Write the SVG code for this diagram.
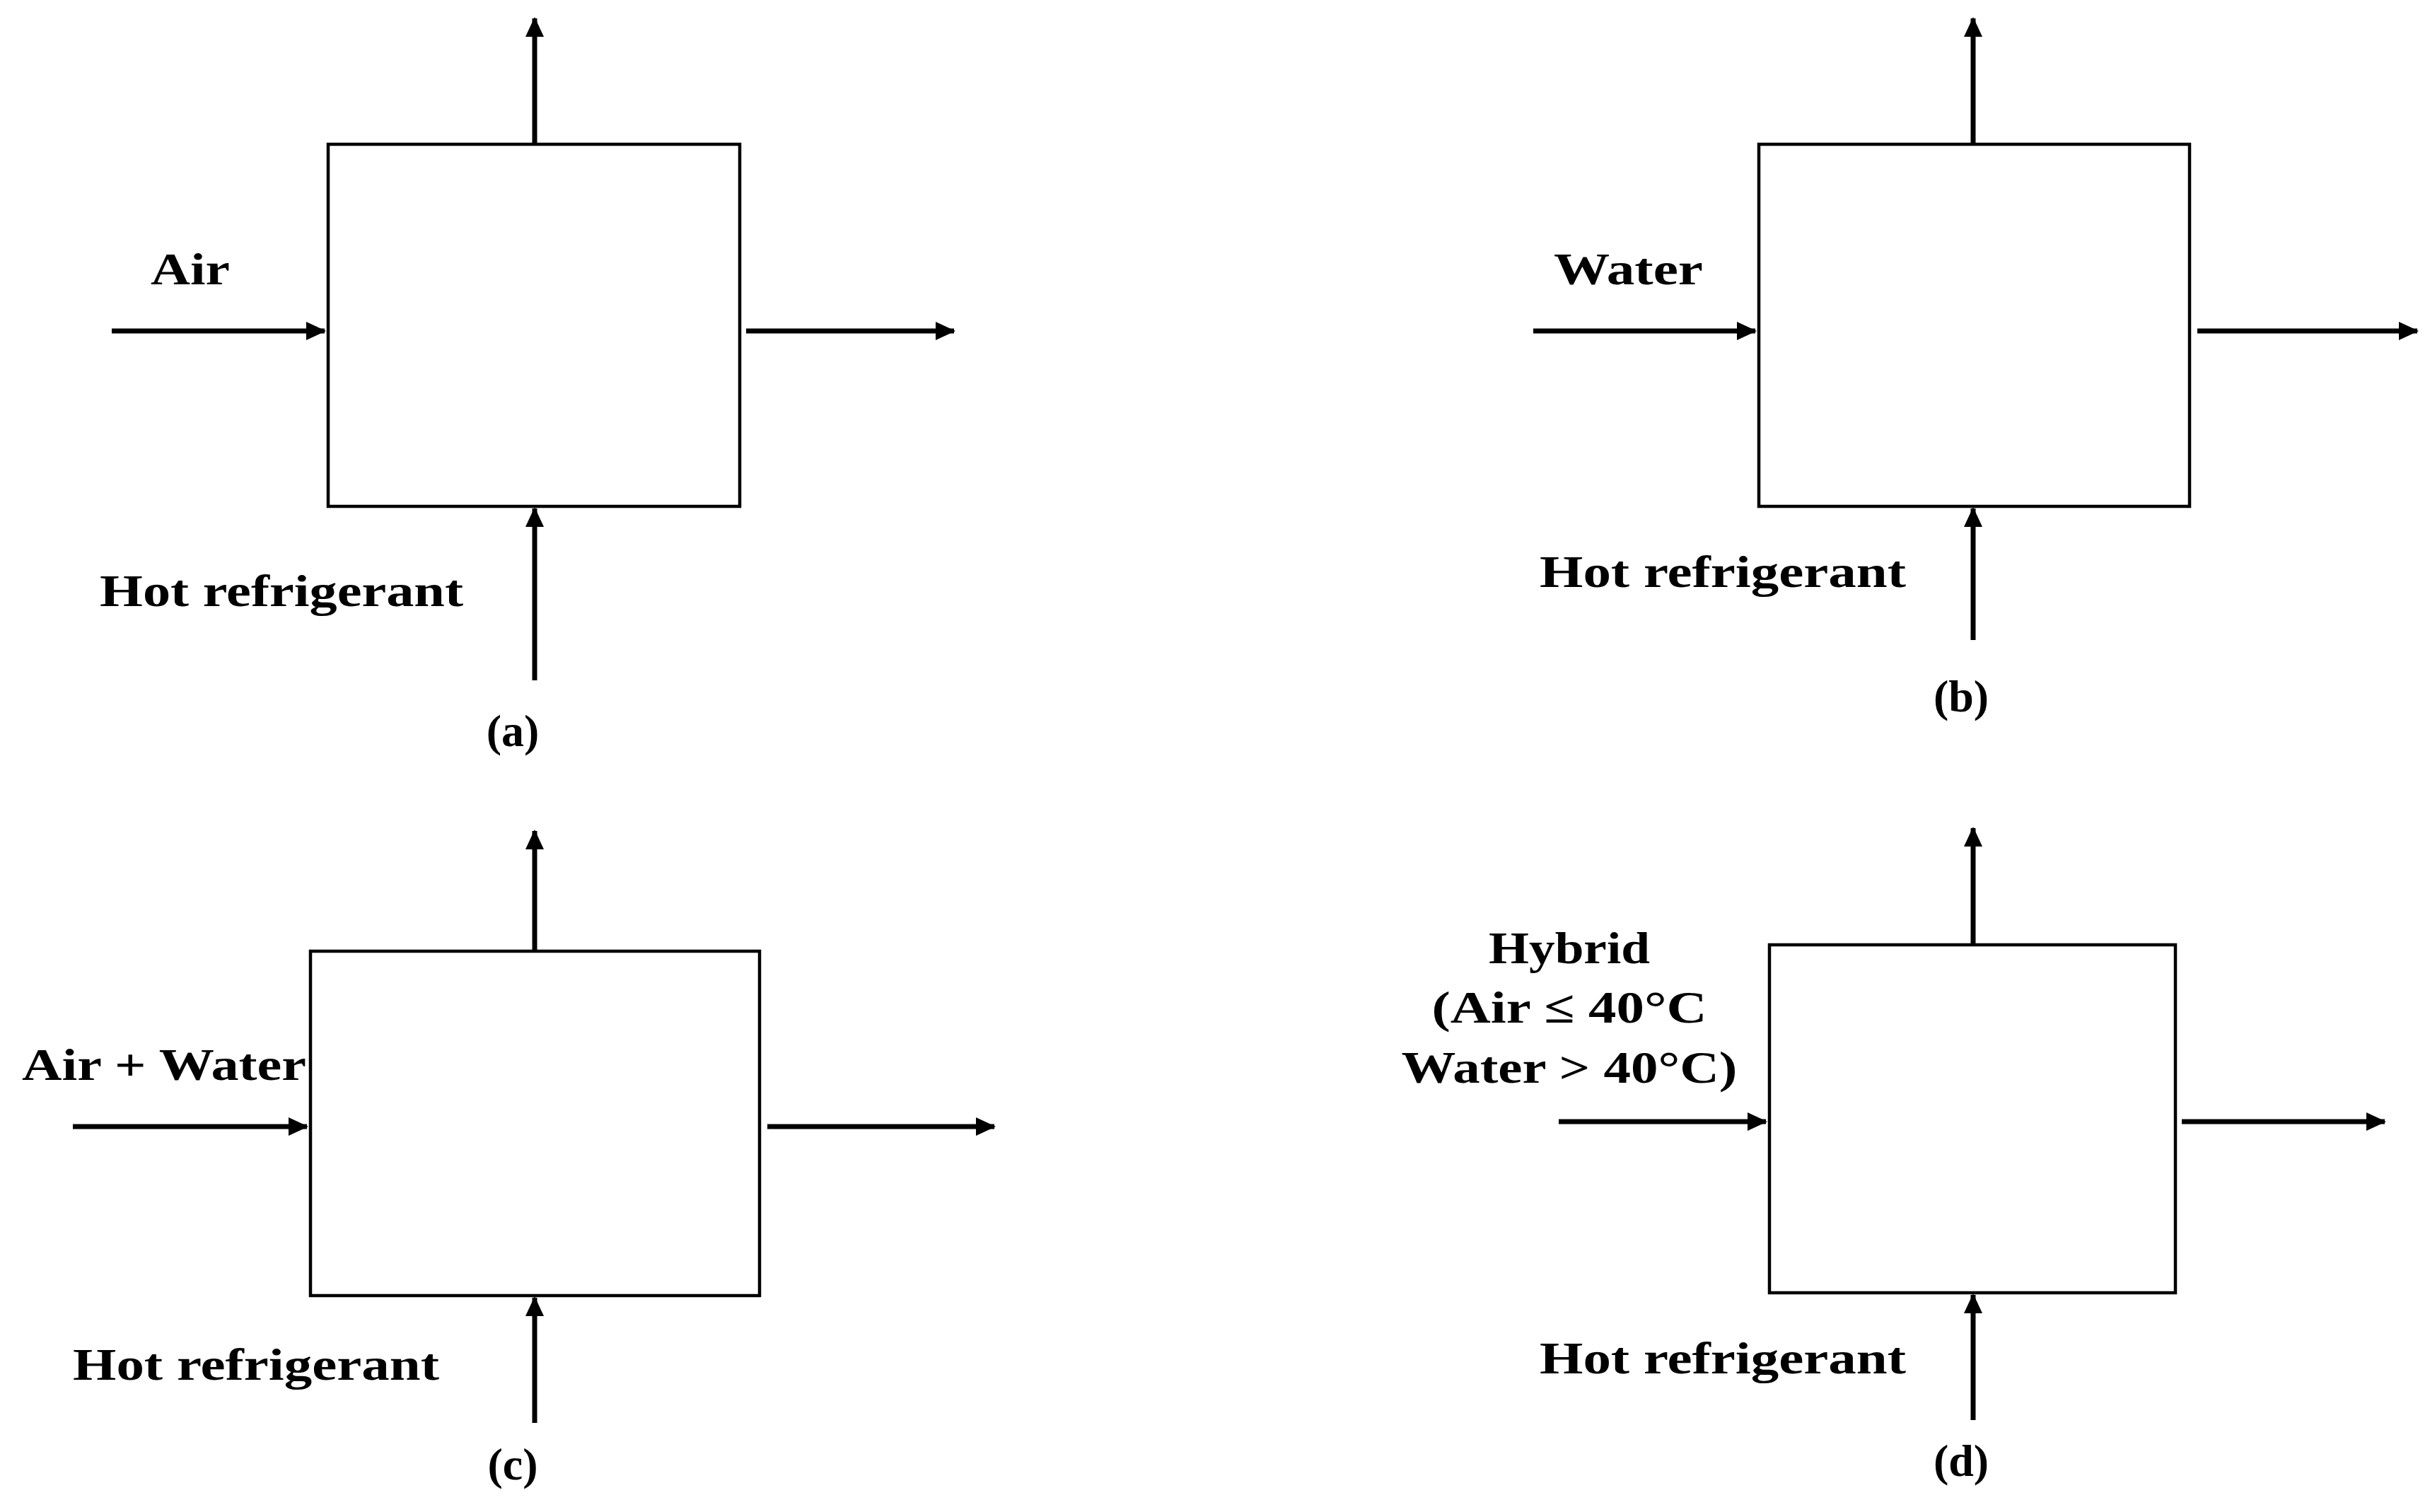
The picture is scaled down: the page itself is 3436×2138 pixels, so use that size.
<svg xmlns="http://www.w3.org/2000/svg" width="3436" height="2138" viewBox="0 0 3436 2138">
<style>
.box{fill:#fff;stroke:#000;stroke-width:4.5}
.ar{stroke:#000;stroke-width:7;fill:none;marker-end:url(#ah)}
text{font-family:"Liberation Serif","Times New Roman",serif;font-weight:bold;font-size:64px;fill:#000}
.c{text-anchor:middle}
</style>
<defs>
<marker id="ah" markerUnits="userSpaceOnUse" markerWidth="30" markerHeight="26" refX="26" refY="13" orient="auto">
<path d="M0,0 L28,13 L0,26 Z" fill="#000"/>
</marker>
</defs>
<rect width="3436" height="2138" fill="#fff"/>
<g id="node-a">
<rect class="box" x="464" y="204" width="582" height="512"/>
<text x="213" y="402" textLength="112" lengthAdjust="spacingAndGlyphs">Air</text>
<text x="141" y="857" textLength="514" lengthAdjust="spacingAndGlyphs">Hot refrigerant</text>
<text class="c" x="725" y="1055">(a)</text>
</g>
<g id="node-b">
<rect class="box" x="2487" y="204" width="609" height="512"/>
<text x="2197" y="402" textLength="211" lengthAdjust="spacingAndGlyphs">Water</text>
<text x="2177" y="830" textLength="518" lengthAdjust="spacingAndGlyphs">Hot refrigerant</text>
<text class="c" x="2773" y="1006">(b)</text>
</g>
<g id="node-c">
<rect class="box" x="439" y="1345" width="635" height="487"/>
<text x="31" y="1527" textLength="402" lengthAdjust="spacingAndGlyphs">Air + Water</text>
<text x="103" y="1951" textLength="518" lengthAdjust="spacingAndGlyphs">Hot refrigerant</text>
<text class="c" x="725" y="2092">(c)</text>
</g>
<g id="node-d">
<rect class="box" x="2502" y="1336" width="574" height="492"/>
<text class="c" x="2219" y="1362" textLength="228" lengthAdjust="spacingAndGlyphs">Hybrid</text>
<text class="c" x="2219" y="1446" textLength="389" lengthAdjust="spacingAndGlyphs">(Air ≤ 40°C</text>
<text class="c" x="2219" y="1531" textLength="475" lengthAdjust="spacingAndGlyphs">Water &gt; 40°C)</text>
<text x="2177" y="1942" textLength="518" lengthAdjust="spacingAndGlyphs">Hot refrigerant</text>
<text class="c" x="2773" y="2087">(d)</text>
</g>
<g id="connectors">
<line class="ar" x1="756" y1="204" x2="756" y2="26"/>
<line class="ar" x1="158" y1="468" x2="459" y2="468"/>
<line class="ar" x1="1055" y1="468" x2="1349" y2="468"/>
<line class="ar" x1="756" y1="962" x2="756" y2="719"/>
<line class="ar" x1="2790" y1="204" x2="2790" y2="26"/>
<line class="ar" x1="2168" y1="468" x2="2482" y2="468"/>
<line class="ar" x1="3107" y1="468" x2="3418" y2="468"/>
<line class="ar" x1="2790" y1="905" x2="2790" y2="719"/>
<line class="ar" x1="756" y1="1345" x2="756" y2="1175"/>
<line class="ar" x1="103" y1="1593" x2="434" y2="1593"/>
<line class="ar" x1="1085" y1="1593" x2="1406" y2="1593"/>
<line class="ar" x1="756" y1="2012" x2="756" y2="1835"/>
<line class="ar" x1="2790" y1="1336" x2="2790" y2="1171"/>
<line class="ar" x1="2204" y1="1586" x2="2497" y2="1586"/>
<line class="ar" x1="3085" y1="1586" x2="3372" y2="1586"/>
<line class="ar" x1="2790" y1="2008" x2="2790" y2="1831"/>
</g>
</svg>
